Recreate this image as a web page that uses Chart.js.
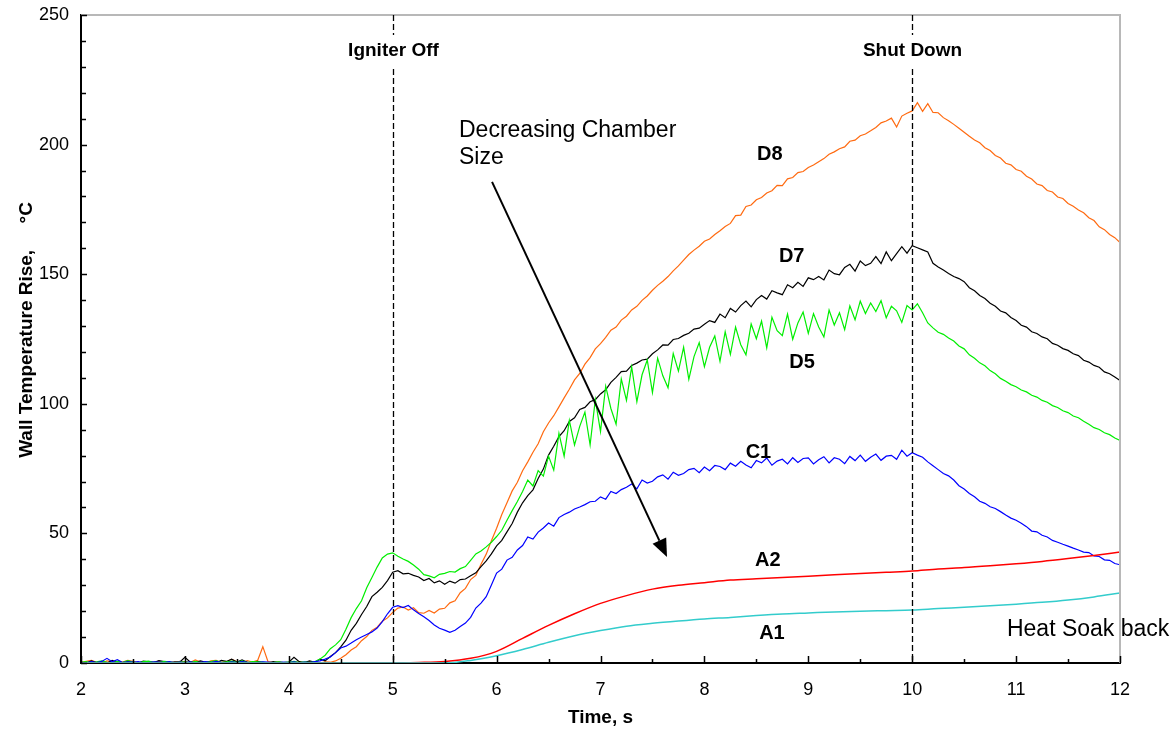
<!DOCTYPE html>
<html>
<head>
<meta charset="utf-8">
<script src="https://cdn.jsdelivr.net/npm/chart.js@4.4.1/dist/chart.umd.min.js"></script>
<style>
  html, body { margin: 0; padding: 0; background: #fff; }
  #wrap { width: 1174px; height: 732px; }
</style>
</head>
<body>
<div id="wrap"><canvas id="myChart"></canvas></div>
<script>
// Time grids (s)
const tFine = [
  2, 2.05, 2.1, 2.15, 2.2, 2.25, 2.3, 2.35, 2.4, 2.45, 2.5, 2.55, 2.6, 2.65, 2.7, 2.75, 2.8, 2.85, 2.9, 2.95,
  3, 3.05, 3.1, 3.15, 3.2, 3.25, 3.3, 3.35, 3.4, 3.45, 3.5, 3.55, 3.6, 3.65, 3.7, 3.75, 3.8, 3.85, 3.9, 3.95,
  4, 4.05, 4.1, 4.15, 4.2, 4.25, 4.3, 4.35, 4.4, 4.45, 4.5, 4.55, 4.6, 4.65, 4.7, 4.75, 4.8, 4.85, 4.9, 4.95,
  5, 5.05, 5.1, 5.15, 5.2, 5.25, 5.3, 5.35, 5.4, 5.45, 5.5, 5.55, 5.6, 5.65, 5.7, 5.75, 5.8, 5.85, 5.9, 5.95,
  6, 6.05, 6.1, 6.15, 6.2, 6.25, 6.3, 6.35, 6.4, 6.45, 6.5, 6.55, 6.6, 6.65, 6.7, 6.75, 6.8, 6.85, 6.9, 6.95,
  7, 7.05, 7.1, 7.15, 7.2, 7.25, 7.3, 7.35, 7.4, 7.45, 7.5, 7.55, 7.6, 7.65, 7.7, 7.75, 7.8, 7.85, 7.9, 7.95,
  8, 8.05, 8.1, 8.15, 8.2, 8.25, 8.3, 8.35, 8.4, 8.45, 8.5, 8.55, 8.6, 8.65, 8.7, 8.75, 8.8, 8.85, 8.9, 8.95,
  9, 9.05, 9.1, 9.15, 9.2, 9.25, 9.3, 9.35, 9.4, 9.45, 9.5, 9.55, 9.6, 9.65, 9.7, 9.75, 9.8, 9.85, 9.9, 9.95,
  10, 10.05, 10.1, 10.15, 10.2, 10.25, 10.3, 10.35, 10.4, 10.45, 10.5, 10.55, 10.6, 10.65, 10.7, 10.75, 10.8, 10.85, 10.9, 10.95,
  11, 11.05, 11.1, 11.15, 11.2, 11.25, 11.3, 11.35, 11.4, 11.45, 11.5, 11.55, 11.6, 11.65, 11.7, 11.75, 11.8, 11.85, 11.9, 11.95,
  12
];
const tCoarse = [
  2, 2.25, 2.5, 2.75, 3, 3.25, 3.5, 3.75, 4, 4.25, 4.5, 4.75, 5, 5.25, 5.5, 5.75, 6, 6.25, 6.5, 6.75,
  7, 7.25, 7.5, 7.75, 8, 8.25, 8.5, 8.75, 9, 9.25, 9.5, 9.75, 10, 10.25, 10.5, 10.75, 11, 11.25, 11.5, 11.75, 12
];

// Wall temperature rise (deg C)
const d8 = [
  0.2, 0.6, 1.0, 0.3, 0, 0.8, 0.5, 0.1, 0.4, 1.0, 0.6, 0.2, 0, 0.5, 0.3, 0.7, 0.1, 0.4, 0.2, 0.6,
  0.5, 0.2, 1.2, 0.4, 0, 0.8, 1.0, 0.3, 0.5, 1.4, 0.6, 0.2, 0.9, 0.4, 1.0, 6.3, 0.5, 0.1, 0.3, 0.1,
  0, 0.2, 0.4, 0.1, 0.5, 0.3, 0, 0.4, 0.3, 0.8, 1.8, 3.2, 5.0, 6.3, 8.6, 10.2, 12.6, 13.8, 16.1, 17.4,
  19.5, 21.2, 21.6, 20.4, 21.3, 19.4, 19.2, 20.3, 19.3, 20.8, 21.1, 23.2, 24.0, 27.1, 28.8, 32.2, 33.8, 38.1, 42.0, 47.2,
  52.0, 57.3, 61.8, 66.4, 69.7, 74.2, 77.6, 81.3, 84.6, 89.2, 92.6, 95.4, 98.8, 102.3, 105.6, 109.2, 111.7, 115.3, 117.8, 121.2,
  123.2, 125.6, 128.4, 129.6, 132.3, 133.8, 136.2, 137.6, 139.9, 141.6, 143.8, 145.7, 147.3, 149.1, 151.3, 153.2, 155.4, 157.6, 159.3, 160.8,
  162.7, 163.6, 165.3, 166.8, 168.4, 169.6, 172.6, 172.8, 176.1, 176.7, 178.7, 179.6, 181.3, 182.2, 184.3, 184.2, 186.8, 187.3, 189.2, 189.6,
  191.2, 192.1, 193.4, 194.6, 196.3, 197.2, 198.4, 199.1, 201.3, 201.7, 203.4, 204.1, 205.3, 206.6, 208.4, 209.1, 210.2, 206.8, 211.0, 212.1,
  213.0, 216.2, 212.8, 215.8, 212.4, 212.3, 210.4, 209.2, 207.8, 206.3, 204.8, 203.2, 201.8, 200.7, 198.8, 197.7, 195.8, 194.8, 192.8, 192.2,
  190.4, 189.7, 187.8, 186.7, 184.8, 184.2, 182.3, 181.7, 179.8, 179.2, 177.3, 176.2, 174.8, 173.7, 171.8, 170.7, 168.3, 167.2, 165.3, 164.1,
  162.2
];
const d7 = [
  0.3, 0, 0.8, 0.2, 0.5, 0, 1.0, 0.4, 0.2, 0.6, 0.3, 0, 0.7, 0.4, 0.2, 0.9, 0.5, 0.1, 0.4, 0.3,
  2.2, 0.4, 0.2, 0.8, 0.3, 0.5, 0, 1.0, 0.6, 1.5, 0.4, 1.2, 0.3, 0, 0.6, 0.2, 0.1, 0.5, 0.3, 0.2,
  0.3, 2.2, 0.5, 0.2, 0.8, 0.3, 1.5, 0.8, 2.5, 4.0, 6.2, 8.8, 12.6, 15.3, 18.7, 21.8, 25.6, 27.3, 29.2, 31.8,
  35.0, 35.6, 34.4, 34.6, 33.8, 33.2, 31.8, 32.6, 30.9, 31.7, 30.4, 31.6, 30.8, 32.2, 32.4, 33.7, 34.8, 37.2, 39.4, 42.1,
  45.2, 47.3, 50.6, 53.8, 58.2, 61.8, 64.6, 66.8, 71.2, 74.8, 80.2, 83.6, 87.3, 89.6, 93.2, 94.6, 97.8, 98.6, 100.8, 101.6,
  103.8, 105.4, 108.3, 110.2, 112.4, 112.6, 114.8, 115.7, 116.9, 117.2, 119.3, 120.8, 122.7, 122.6, 124.8, 125.2, 126.4, 127.2, 128.8, 129.2,
  130.7, 132.1, 131.4, 134.6, 133.2, 136.8, 135.4, 137.9, 139.6, 137.4, 140.2, 141.8, 140.4, 143.6, 142.8, 142.1, 145.9, 144.8, 146.9, 145.3,
  148.6, 147.9, 149.1, 147.8, 151.6, 150.2, 149.8, 152.6, 153.8, 151.2, 155.1, 153.3, 154.2, 156.8, 154.1, 158.6, 155.2, 157.9, 160.6, 158.1,
  161.0, 160.2, 159.4, 158.6, 154.2, 152.8, 151.6, 150.3, 149.1, 148.3, 147.1, 144.8, 143.6, 141.8, 140.6, 138.8, 137.6, 135.8, 135.1, 133.3,
  132.1, 130.3, 129.6, 127.8, 127.1, 125.8, 125.1, 123.3, 122.6, 121.3, 120.6, 119.3, 118.6, 116.8, 116.1, 114.8, 114.1, 112.3, 111.6, 110.3,
  109.0
];
const d5 = [
  0.2, 0.5, 0, 0.4, 0.8, 0.3, 0.1, 0.6, 0.2, 0.9, 0.4, 0, 0.5, 0.7, 0.3, 0.2, 0.6, 0.4, 0.1, 0.3,
  0.4, 0.2, 0.6, 0.1, 0.3, 0.5, 0.9, 0.2, 0.4, 0.7, 0.3, 0.8, 0.2, 0.5, 0.4, 0.3, 0.1, 0.2, 0.4, 0.2,
  0.3, 0.6, 0.2, 0.4, 0.2, 0.5, 1.5, 3.0, 5.5, 7.0, 9.0, 13.0, 17.5, 21.0, 24.0, 29.0, 33.0, 37.0, 40.5, 42.0,
  42.5, 41.2, 40.1, 39.2, 37.8, 36.2, 34.1, 33.6, 32.9, 34.2, 34.6, 35.3, 35.1, 36.4, 37.2, 39.6, 42.1, 43.2, 44.8, 46.6,
  48.8, 51.2, 55.1, 58.8, 62.3, 66.2, 70.6, 68.3, 74.2, 72.1, 79.8, 74.4, 88.6, 79.8, 93.6, 84.1, 91.3, 96.8, 84.2, 101.6,
  89.3, 106.8, 98.2, 92.1, 109.6, 101.3, 114.2, 100.8, 111.2, 116.9, 104.3, 117.6, 110.8, 106.2, 119.4, 112.6, 121.8, 109.4, 118.2, 123.6,
  114.3, 121.8, 126.2, 116.4, 127.8, 119.1, 129.6, 122.8, 118.9, 130.8, 125.1, 131.9, 121.6, 133.4, 128.2, 126.3, 134.6, 124.9, 131.2, 135.4,
  127.2, 134.8, 129.6, 125.8, 136.2, 130.4, 135.1, 128.6, 137.8, 132.4, 139.6, 134.8, 138.9, 135.6, 139.8, 133.2, 137.6, 135.9, 131.4, 137.9,
  136.2, 138.6, 135.1, 131.2, 129.3, 127.6, 126.8, 125.4, 124.2, 122.3, 121.2, 118.9, 117.6, 115.8, 114.7, 112.8, 111.6, 109.8, 108.7, 107.4,
  106.6, 105.3, 104.6, 103.3, 102.6, 101.3, 100.6, 99.3, 98.6, 97.3, 96.6, 95.3, 94.6, 93.3, 92.1, 90.8, 90.1, 88.8, 88.1, 86.8,
  85.9
];
const c1 = [
  0.3, 0.1, 0.5, 0.2, 0.6, 1.8, 0.5, 1.3, 0.2, 0.4, 0.3, 0.5, 0.1, 0.2, 0.4, 0.3, 0.2, 0.5, 0.1, 0.3,
  0.2, 0.4, 0.1, 0.3, 0.5, 0.2, 0.6, 0.3, 0.1, 0.4, 0.2, 0.5, 0.3, 0.1, 0.2, 0.4, 0.3, 0.1, 0.2, 0.3,
  0.2, 0.4, 0.1, 0.3, 0.2, 0.5, 0.8, 1.5, 2.3, 4.0, 5.8, 6.5, 7.7, 9.0, 10.0, 11.0, 12.0, 13.5, 16.0, 19.0,
  21.5, 22.1, 21.4, 22.2, 20.5, 19.1, 17.8, 16.4, 14.7, 13.4, 12.7, 11.8, 12.6, 14.1, 15.4, 17.6, 21.2, 23.1, 25.6, 30.1,
  34.7, 36.2, 39.7, 40.8, 43.6, 45.3, 48.6, 47.8, 50.5, 52.1, 54.0, 52.8, 56.1, 57.3, 58.2, 59.4, 60.2, 61.1, 62.2, 62.4,
  64.1, 63.2, 66.2, 65.4, 66.9, 67.8, 69.1, 67.2, 70.6, 69.4, 70.1, 71.8, 72.6, 70.9, 73.6, 72.4, 73.1, 74.6, 75.1, 73.4,
  75.6, 74.2, 76.2, 75.8, 74.6, 77.1, 75.9, 77.8, 76.4, 75.3, 78.1, 77.2, 79.1, 76.3, 77.9, 78.6, 76.8, 79.2, 77.4, 78.9,
  79.1, 76.8, 78.4, 79.6, 77.2, 79.2, 78.6, 76.9, 79.7, 78.1, 80.2, 77.8, 79.4, 80.6, 78.2, 79.8, 80.1, 78.6, 82.1, 79.8,
  81.1, 80.2, 79.4, 77.6, 76.1, 74.6, 73.1, 72.2, 70.6, 68.4, 67.1, 65.4, 64.1, 62.4, 61.6, 60.3, 59.6, 58.4, 57.1, 55.9,
  55.1, 53.9, 52.6, 50.9, 50.6, 49.3, 48.6, 47.3, 46.6, 45.8, 45.1, 44.3, 43.6, 42.8, 42.6, 41.3, 41.1, 39.8, 39.6, 38.4,
  37.9
];
const a2 = [
  0, 0, 0, 0, 0, 0, 0, 0, 0, 0, 0, 0, 0, 0.2, 0.6, 1.8, 4.5, 9.5, 14.5, 19,
  23, 26, 28.5, 30, 31, 32, 32.5, 33, 33.5, 34, 34.5, 35, 35.5, 36.3, 36.8, 37.5, 38.3, 39.2, 40.3, 41.5, 42.8
];
const a1 = [
  0, 0, 0, 0, 0, 0, 0, 0, 0, 0, 0, 0, 0, 0, 0, 1, 2.8, 5.2, 8, 10.5,
  12.5, 14.2, 15.3, 16.2, 17, 17.6, 18.3, 18.9, 19.3, 19.7, 20, 20.2, 20.4, 21, 21.5, 22.1, 22.7, 23.4, 24.3, 25.5, 27
];

// Series labels and where they sit (time, value)
const seriesNames = ["D8", "D7", "D5", "C1", "A2", "A1"];
const nameX = [8.63, 8.84, 8.94, 8.52, 8.61, 8.65];
const nameY = [196, 157, 116, 81.4, 39.4, 11.2];

// Event markers
const eventTimes = [5, 10];
const eventNames = ["Igniter Off", "Shut Down"];

const pts = (ts, vs) => ts.map((t, i) => ({ x: t, y: vs[i] }));

const sansFont = "'Liberation Sans', Arial, sans-serif";

const overlay = {
  id: "overlay",
  afterDatasetsDraw(chart) {
    const { ctx, chartArea: a, scales: { x, y } } = chart;
    ctx.save();

    // top and right frame
    ctx.strokeStyle = "#b8b8b8";
    ctx.lineWidth = 2;
    ctx.beginPath();
    ctx.moveTo(a.left, a.top);
    ctx.lineTo(a.right, a.top);
    ctx.lineTo(a.right, a.bottom);
    ctx.stroke();

    // inward ticks
    ctx.strokeStyle = "#000";
    ctx.lineWidth = 1.5;
    ctx.beginPath();
    for (let v = 0; v <= 250; v += 10) {
      const py = Math.round(y.getPixelForValue(v)) + 0.5;
      ctx.moveTo(a.left, py);
      ctx.lineTo(a.left + (v % 50 === 0 ? 6 : 5), py);
    }
    for (let t = 2; t <= 12; t += 0.5) {
      const px = Math.round(x.getPixelForValue(t)) + 0.5;
      ctx.moveTo(px, a.bottom);
      ctx.lineTo(px, a.bottom - (t % 1 === 0 ? 7 : 4));
    }
    ctx.stroke();

    // event lines with labels
    ctx.font = "bold 19px " + sansFont;
    ctx.textAlign = "center";
    ctx.textBaseline = "middle";
    eventTimes.forEach((t, i) => {
      const px = Math.round(x.getPixelForValue(t)) + 0.5;
      ctx.strokeStyle = "#000";
      ctx.lineWidth = 1.3;
      ctx.setLineDash([6, 3]);
      ctx.beginPath();
      ctx.moveTo(px, a.top);
      ctx.lineTo(px, a.bottom);
      ctx.stroke();
      ctx.setLineDash([]);
      const py = y.getPixelForValue(236.5);
      const w = ctx.measureText(eventNames[i]).width;
      ctx.fillStyle = "#fff";
      ctx.fillRect(px - w / 2 - 3, py - 15, w + 6, 32);
      ctx.fillStyle = "#000";
      ctx.fillText(eventNames[i], px, py + 1);
    });

    // series names
    ctx.font = "bold 20px " + sansFont;
    seriesNames.forEach((n, i) => {
      ctx.fillText(n, x.getPixelForValue(nameX[i]), y.getPixelForValue(nameY[i]));
    });

    // notes
    ctx.font = "23px " + sansFont;
    ctx.textAlign = "left";
    ctx.fillText("Decreasing Chamber", x.getPixelForValue(5.638), y.getPixelForValue(205.2));
    ctx.fillText("Size", x.getPixelForValue(5.638), y.getPixelForValue(194.8));
    ctx.fillText("Heat Soak back", x.getPixelForValue(10.912), y.getPixelForValue(12.7));

    // arrow
    const x0 = x.getPixelForValue(5.956), y0 = y.getPixelForValue(185.6);
    const x1 = x.getPixelForValue(7.64), y1 = y.getPixelForValue(40.9);
    const ang = Math.atan2(y1 - y0, x1 - x0);
    const hl = 18, hw = 7.5;
    const bx = x1 - hl * Math.cos(ang), by = y1 - hl * Math.sin(ang);
    ctx.strokeStyle = "#000";
    ctx.lineWidth = 2;
    ctx.beginPath();
    ctx.moveTo(x0, y0);
    ctx.lineTo(bx, by);
    ctx.stroke();
    ctx.fillStyle = "#000";
    ctx.beginPath();
    ctx.moveTo(x1, y1);
    ctx.lineTo(bx + hw * Math.sin(ang), by - hw * Math.cos(ang));
    ctx.lineTo(bx - hw * Math.sin(ang), by + hw * Math.cos(ang));
    ctx.closePath();
    ctx.fill();

    // y axis title
    ctx.translate(27, 330);
    ctx.rotate(-Math.PI / 2);
    ctx.textAlign = "center";
    ctx.font = "bold 19px " + sansFont;
    ctx.fillText("Wall Temperature Rise,     °C", 0, 0);

    ctx.restore();
  },
};

const lineStyle = { pointRadius: 0, borderWidth: 1.2, tension: 0, fill: false };

const ctx = document.getElementById("myChart").getContext("2d");
const myChart = new Chart(ctx, {
  type: "line",
  data: {
    datasets: [
      { label: "A1", data: pts(tCoarse, a1), borderColor: "#33cccc", cubicInterpolationMode: "monotone", ...lineStyle, borderWidth: 1.5 },
      { label: "A2", data: pts(tCoarse, a2), borderColor: "#ff0000", cubicInterpolationMode: "monotone", ...lineStyle, borderWidth: 1.5 },
      { label: "C1", data: pts(tFine, c1), borderColor: "#0000ff", ...lineStyle },
      { label: "D5", data: pts(tFine, d5), borderColor: "#00ee00", ...lineStyle },
      { label: "D7", data: pts(tFine, d7), borderColor: "#000000", ...lineStyle },
      { label: "D8", data: pts(tFine, d8), borderColor: "#ff6a10", ...lineStyle },
    ],
  },
  options: {
    responsive: true,
    maintainAspectRatio: false,
    animation: false,
    layout: { padding: { top: 15, right: 54, left: 0, bottom: 0 } },
    plugins: { legend: { display: false }, tooltip: { enabled: false } },
    scales: {
      x: {
        type: "linear",
        min: 2,
        max: 12,
        afterFit: (s) => { s.height = 69; s.paddingLeft = 0; s.paddingRight = 0; },
        ticks: { stepSize: 1, color: "#000", padding: 16, font: { family: sansFont, size: 18 } },
        grid: { drawOnChartArea: false, drawTicks: false },
        border: { color: "#000", width: 2 },
        title: { display: true, text: "Time, s", color: "#000", padding: { top: 0, bottom: 3 }, font: { family: sansFont, size: 19, weight: "bold" } },
      },
      y: {
        min: 0,
        max: 250,
        afterFit: (s) => { s.width = 81; s.paddingTop = 0; s.paddingBottom = 0; },
        ticks: { stepSize: 50, color: "#000", padding: 12, font: { family: sansFont, size: 18 } },
        grid: { drawOnChartArea: false, drawTicks: false },
        border: { color: "#000", width: 2 },
      },
    },
  },
  plugins: [overlay],
});
</script>
</body>
</html>
